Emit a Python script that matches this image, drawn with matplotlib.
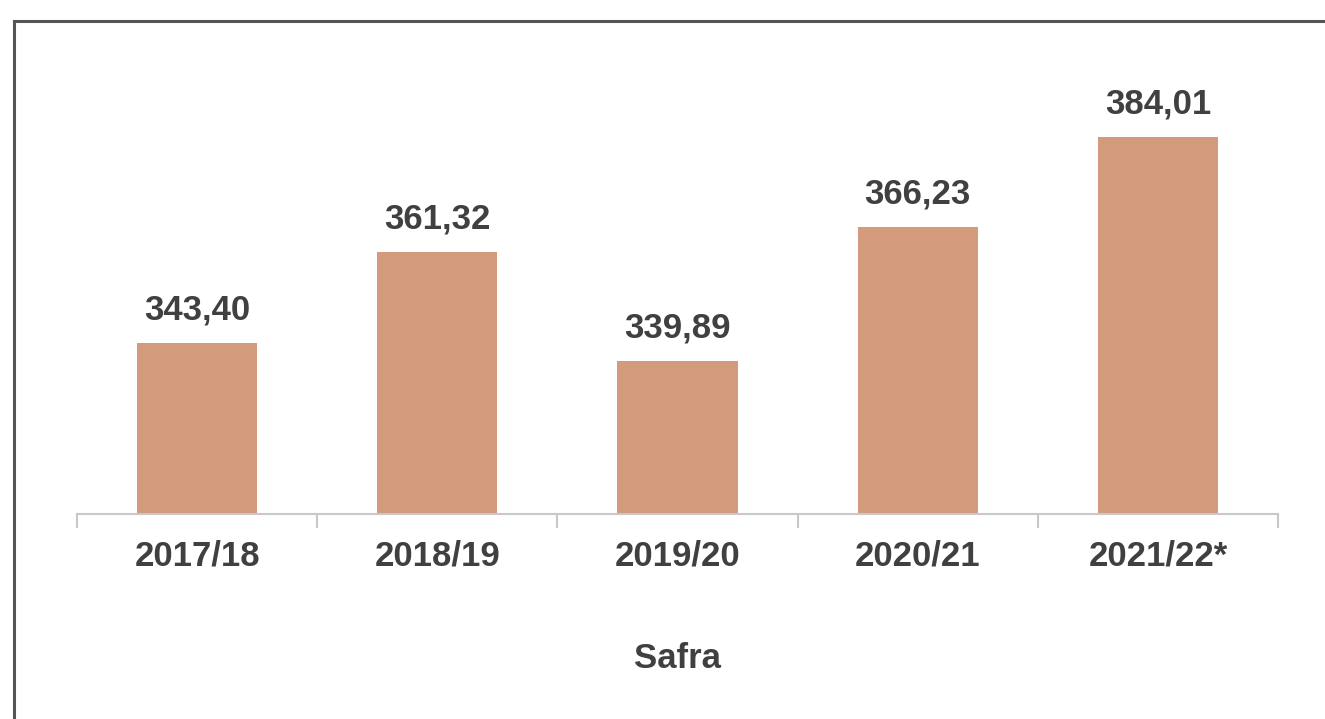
import matplotlib.pyplot as plt
from matplotlib.lines import Line2D

safras = ["2017/18", "2018/19", "2019/20", "2020/21", "2021/22*"]
valores = [343.40, 361.32, 339.89, 366.23, 384.01]
rotulos = ["343,40", "361,32", "339,89", "366,23", "384,01"]

plt.rcParams['font.family'] = ['Liberation Sans', 'DejaVu Sans']
texto = "#404040"
cor_barra = "#D39B7B"

fig = plt.figure(figsize=(13.25, 7.19), dpi=100)
ax = fig.add_axes([77 / 1325, 1 - 514 / 719, 1201 / 1325, 474 / 719])

x = range(len(safras))
ax.bar(x, valores, width=0.5, color=cor_barra, zorder=2)

for xi, v, r in zip(x, valores, rotulos):
    ax.annotate(r, (xi, v), xytext=(0, 12), textcoords="offset points",
                ha="center", va="bottom", fontsize=25, fontweight="bold", color=texto)

ax.set_xlim(-0.5, 4.5)
ax.set_ylim(309.75, 403.1)
ax.set_yticks([])
ax.set_xticks(list(x))
ax.set_xticklabels(safras, fontsize=25, fontweight="bold", color=texto)
ax.tick_params(axis="x", which="major", length=0, pad=18)
ax.set_xticks([i - 0.5 for i in range(len(safras) + 1)], minor=True)
ax.tick_params(axis="x", which="minor", length=10, width=1.5, color="#c8c8c8")

for s in ["top", "right", "left"]:
    ax.spines[s].set_visible(False)
ax.spines["bottom"].set_color("#c8c8c8")
ax.spines["bottom"].set_linewidth(1.5)

fig.text(677 / 1325, 1 - 658 / 719, "Safra", ha="center", va="center",
         fontsize=25, fontweight="bold", color=texto)

# moldura
x0, y0 = 14 / 1325, 1 - 21 / 719
fig.add_artist(Line2D([x0, x0], [0, y0], transform=fig.transFigure, color="#555555", lw=2.2))
fig.add_artist(Line2D([x0, 1], [y0, y0], transform=fig.transFigure, color="#555555", lw=2.2))

fig.savefig("out.png", dpi=100, facecolor="white")
